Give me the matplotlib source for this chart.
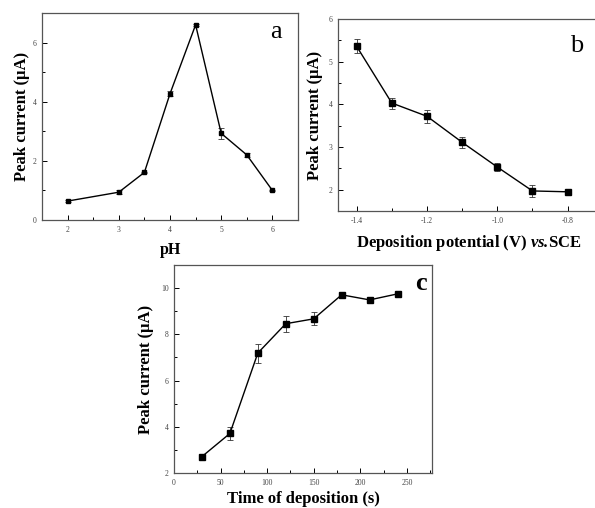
import matplotlib
matplotlib.use("Agg")
import matplotlib.pyplot as plt
from matplotlib.ticker import MultipleLocator

plt.rcParams['font.family'] = 'Liberation Serif'
plt.rcParams['axes.unicode_minus'] = False
plt.rcParams['mathtext.fontset'] = 'custom'
plt.rcParams['mathtext.rm'] = 'Liberation Serif'
plt.rcParams['mathtext.it'] = 'Liberation Serif:italic'
plt.rcParams['mathtext.bf'] = 'Liberation Serif:bold'
plt.rcParams['mathtext.bfit'] = 'Liberation Serif:italic:bold'

# (a) peak current vs pH
ph = [2, 3, 3.5, 4, 4.5, 5, 5.5, 6]
ph_current = [0.64, 0.94, 1.61, 4.27, 6.60, 2.93, 2.20, 1.00]
ph_err = [0.02, 0.07, 0.03, 0.08, 0.03, 0.18, 0.08, 0.03]

# (b) peak current vs deposition potential
potential = [-1.4, -1.3, -1.2, -1.1, -1.0, -0.9, -0.8]
pot_current = [5.36, 4.03, 3.72, 3.11, 2.53, 1.97, 1.95]
pot_err = [0.16, 0.13, 0.15, 0.13, 0.09, 0.14, 0.05]

# (c) peak current vs deposition time
dep_time = [30, 60, 90, 120, 150, 180, 210, 240]
time_current = [2.71, 3.71, 7.19, 8.46, 8.67, 9.71, 9.49, 9.75]
time_err = [0.03, 0.30, 0.41, 0.34, 0.28, 0.10, 0.05, 0.05]

W, H = 595, 508
fig = plt.figure(figsize=(W / 100, H / 100), dpi=100)


def make_axes(left, right, top, bottom):
    return fig.add_axes([left / W, 1 - bottom / H, (right - left) / W, (bottom - top) / H])


def style(ax, xmaj, xmin, ymaj, ymin):
    ax.xaxis.set_major_locator(MultipleLocator(xmaj))
    ax.xaxis.set_minor_locator(MultipleLocator(xmin))
    ax.yaxis.set_major_locator(MultipleLocator(ymaj))
    ax.yaxis.set_minor_locator(MultipleLocator(ymin))
    ax.tick_params(which='both', direction='in', top=False, right=False,
                   labelsize=5.5, labelcolor='#444444', width=0.7)
    ax.tick_params(which='major', length=3.5, pad=4)
    ax.tick_params(which='minor', length=2)
    for s in ax.spines.values():
        s.set_linewidth(0.9)
        s.set_color('#555555')


def draw(ax, x, y, err, ms):
    ax.errorbar(x, y, yerr=err, color='black', lw=1.0, marker='s', ms=ms,
                elinewidth=0.6, ecolor='#333333', capsize=2, capthick=0.6)


lab = dict(fontsize=12, fontweight='bold')

# panel a
ax1 = make_axes(42, 298, 13, 220)
draw(ax1, ph, ph_current, ph_err, 2.2)
ax1.set_xlim(1.5, 6.5)
ax1.set_ylim(0, 7)
style(ax1, 1, 0.5, 2, 1)
ax1.set_xlabel('pH', labelpad=6, fontsize=11.5, fontweight='bold')
ax1.set_ylabel('Peak current (μA)', labelpad=2, **lab)
ax1.text(0.935, 0.88, 'a', transform=ax1.transAxes, fontsize=19, ha='right')

# panel b (right edge cropped by the figure)
ax2 = make_axes(338, 600, 19, 211)
draw(ax2, potential, pot_current, pot_err, 4.5)
ax2.set_xlim(-1.453, -1.453 + 262 / 351.7)
ax2.set_ylim(1.5, 6)
style(ax2, 0.2, 0.1, 1, 0.5)
ax2.set_xlabel(r'Deposition potential (V) $\mathbfit{vs.}\!$SCE', labelpad=6, **lab)
ax2.set_ylabel('Peak current (μA)', labelpad=4, **lab)
ax2.text(0.935, 0.83, 'b', transform=ax2.transAxes, fontsize=19, ha='right')

# panel c
ax3 = make_axes(174, 432, 265, 473)
draw(ax3, dep_time, time_current, time_err, 4.5)
ax3.set_xlim(0, 277)
ax3.set_ylim(2, 11)
style(ax3, 50, 25, 2, 1)
ax3.set_xlabel('Time of deposition (s)', labelpad=3, **lab)
ax3.set_ylabel('Peak current (μA)', labelpad=5, **lab)
ax3.text(0.98, 0.88, 'c', transform=ax3.transAxes, fontsize=19,
         fontweight='bold', ha='right')

fig.savefig('out.png', dpi=100)
